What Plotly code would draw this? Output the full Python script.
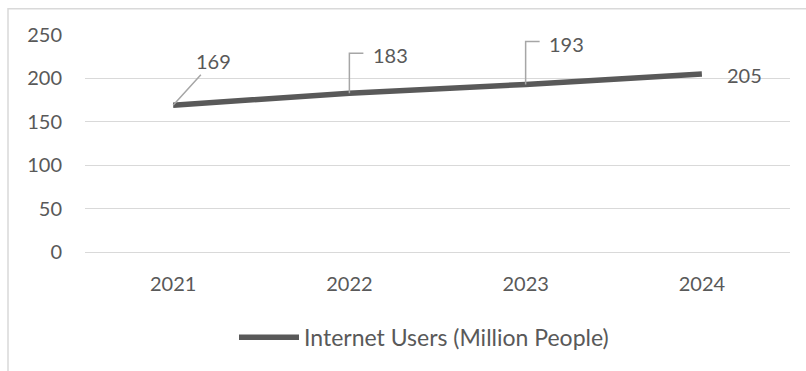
import plotly.graph_objects as go

years = ["2021", "2022", "2023", "2024"]
users = [169, 183, 193, 205]
series_name = "Internet Users (Million People)"
y_ticks = [0, 50, 100, 150, 200, 250]

TXT = "#595959"
GRID = "#d9d9d9"
LEAD = "#a6a6a6"
FONT = "Lato, 'Open Sans', sans-serif"

fig = go.Figure()
fig.add_trace(go.Scatter(
    x=years, y=users, mode="lines", name=series_name,
    line=dict(color="#595959", width=5.5),
    hoverinfo="skip",
))

annotations = []
shapes = []
# 2021 label: diagonal leader line (category index used as position)
annotations.append(dict(
    x=0, y=users[0], xref="x", yref="y", text=str(users[0]),
    showarrow=True, arrowhead=0, arrowwidth=1.5, arrowcolor=LEAD,
    ax=40, ay=-44, font=dict(size=20, color=TXT, family=FONT),
))
# 2022 and 2023 labels: elbow leader lines
for i, (lift, tx, ty) in zip([1, 2], [(40, 41, 38), (43, 41, 40)]):
    shapes.append(dict(
        type="path", xref="x", yref="y", xsizemode="pixel", ysizemode="pixel",
        xanchor=i, yanchor=users[i],
        path=f"M0,0 L0,{lift} L14,{lift}",
        line=dict(color=LEAD, width=1.5),
    ))
    annotations.append(dict(
        x=i, y=users[i], xref="x", yref="y", text=str(users[i]),
        showarrow=False, xshift=tx, yshift=ty,
        font=dict(size=20, color=TXT, family=FONT),
    ))
# 2024 label: right of point
annotations.append(dict(
    x=3, y=users[3], xref="x", yref="y", text=str(users[3]),
    showarrow=False, xshift=43, yshift=-1,
    font=dict(size=20, color=TXT, family=FONT),
))

# outer chart border (partially cropped)
shapes.append(dict(
    type="rect", xref="paper", yref="paper",
    x0=(8 - 85) / 705, x1=(812 - 85) / 705,
    y0=(254 - 380) / 219, y1=(254 - 8.5) / 219,
    line=dict(color=GRID, width=1.5), fillcolor="rgba(0,0,0,0)", layer="below",
))

fig.update_layout(
    width=806, height=371,
    margin=dict(l=85, r=16, t=35, b=117),
    paper_bgcolor="white", plot_bgcolor="white",
    font=dict(family=FONT, size=20, color=TXT),
    showlegend=True,
    legend=dict(
        orientation="h", x=(424 - 85) / 705, xanchor="center",
        y=(254 - 340) / 219, yanchor="middle",
        font=dict(size=23, color=TXT, family=FONT),
        itemwidth=60,
    ),
    xaxis=dict(
        type="category", showgrid=False, showline=False, zeroline=False,
        ticks="outside", ticklen=14, tickcolor="rgba(0,0,0,0)",
        tickfont=dict(size=20, color=TXT),
        range=[-0.5, 3.5],
    ),
    yaxis=dict(
        range=[0, 250], tickvals=y_ticks, showgrid=True, gridcolor=GRID, gridwidth=1,
        zeroline=True, zerolinecolor=GRID, zerolinewidth=1, showline=False,
        ticks="outside", ticklen=18, tickcolor="rgba(0,0,0,0)",
        tickfont=dict(size=20, color=TXT),
    ),
    annotations=annotations,
    shapes=shapes,
)

fig.write_html("out.html", config={"displayModeBar": False},
               post_script="document.body.style.margin='0px';")
